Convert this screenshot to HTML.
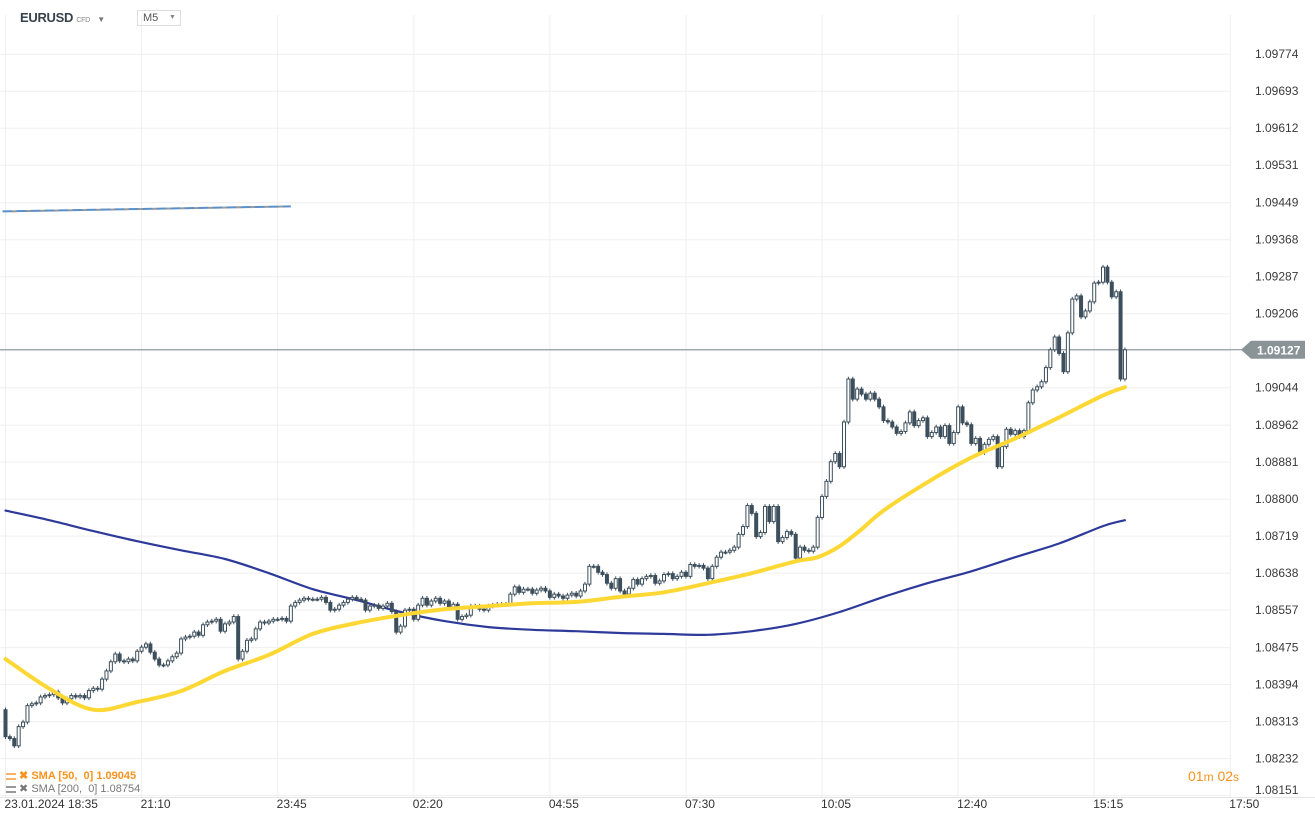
<!DOCTYPE html>
<html><head><meta charset="utf-8">
<style>
html,body{margin:0;padding:0;background:#fff;}
body{width:1315px;height:821px;overflow:hidden;position:relative;font-family:"Liberation Sans",sans-serif;}
svg{position:absolute;left:0;top:0;}
</style></head>
<body>
<svg id="chart" width="1315" height="821" xmlns="http://www.w3.org/2000/svg"></svg>
<script>
const yTicks=[1.09774,1.09693,1.09612,1.09531,1.09449,1.09368,1.09287,1.09206,1.09125,1.09044,1.08962,1.08881,1.08800,1.08719,1.08638,1.08557,1.08475,1.08394,1.08313,1.08232,1.08151];
const timeLabels=["23.01.2024  18:35","21:10","23:45","02:20","04:55","07:30","10:05","12:40","15:15","17:50"];
const firstOpen=1.08339;
const closes=[1.08280,1.08276,1.08260,1.08302,1.08312,1.08348,1.08352,1.08354,1.08367,1.08370,
1.08372,1.08378,1.08365,1.08354,1.08363,1.08370,1.08367,1.08370,1.08365,1.08381,
1.08386,1.08384,1.08406,1.08424,1.08444,1.08461,1.08446,1.08444,1.08450,1.08446,
1.08467,1.08476,1.08483,1.08465,1.08450,1.08437,1.08437,1.08446,1.08455,1.08463,
1.08494,1.08498,1.08500,1.08509,1.08502,1.08525,1.08531,1.08533,1.08537,1.08511,
1.08527,1.08531,1.08543,1.08450,1.08467,1.08491,1.08494,1.08516,1.08531,1.08529,
1.08533,1.08537,1.08537,1.08539,1.08533,1.08566,1.08574,1.08579,1.08583,1.08581,
1.08581,1.08581,1.08585,1.08574,1.08557,1.08559,1.08568,1.08574,1.08581,1.08585,
1.08581,1.08579,1.08557,1.08566,1.08568,1.08561,1.08566,1.08572,1.08554,1.08509,
1.08522,1.08557,1.08559,1.08537,1.08568,1.08583,1.08568,1.08577,1.08583,1.08572,
1.08577,1.08563,1.08570,1.08537,1.08543,1.08546,1.08566,1.08566,1.08559,1.08557,
1.08566,1.08568,1.08570,1.08570,1.08570,1.08592,1.08608,1.08596,1.08603,1.08603,
1.08594,1.08601,1.08605,1.08599,1.08585,1.08592,1.08588,1.08583,1.08590,1.08594,
1.08588,1.08599,1.08614,1.08653,1.08653,1.08640,1.08635,1.08616,1.08605,1.08626,
1.08599,1.08592,1.08605,1.08624,1.08614,1.08626,1.08631,1.08633,1.08616,1.08621,
1.08635,1.08637,1.08626,1.08631,1.08640,1.08631,1.08657,1.08653,1.08655,1.08649,
1.08626,1.08653,1.08673,1.08684,1.08684,1.08688,1.08695,1.08723,1.08740,1.08786,
1.08769,1.08718,1.08727,1.08784,1.08751,1.08784,1.08707,1.08716,1.08729,1.08723,
1.08671,1.08695,1.08688,1.08686,1.08695,1.08760,1.08806,1.08839,1.08882,1.08900,
1.08871,1.08969,1.09063,1.09019,1.09041,1.09030,1.09019,1.09032,1.09019,1.09002,
1.08972,1.08969,1.08958,1.08944,1.08948,1.08967,1.08991,1.08961,1.08972,1.08978,
1.08937,1.08946,1.08958,1.08937,1.08961,1.08922,1.08946,1.09002,1.08967,1.08963,
1.08922,1.08933,1.08902,1.08920,1.08931,1.08937,1.08871,1.08915,1.08953,1.08942,
1.08950,1.08937,1.08950,1.09011,1.09039,1.09046,1.09057,1.09088,1.09127,1.09155,
1.09119,1.09079,1.09164,1.09238,1.09245,1.09199,1.09212,1.09232,1.09273,1.09275,
1.09308,1.09275,1.09243,1.09254,1.09063,1.09127];
const sma50Idx=[0,10,20,30,40,50,60,70,80,90,100,110,120,130,140,150,160,170,180,185,190,195,200,210,220,230,240,250,255];
const sma50=[1.08450,1.08385,1.08339,1.08356,1.08380,1.08424,1.08459,1.08505,1.08529,1.08546,1.08559,1.08566,1.08572,1.08575,1.08586,1.08596,1.08616,1.08638,1.08664,1.08673,1.08697,1.08734,1.08775,1.08837,1.08891,1.08933,1.08979,1.09027,1.09045];
const sma200Idx=[0,10,20,30,40,50,60,70,80,90,100,110,120,130,140,150,160,170,180,190,200,210,220,230,240,250,255];
const sma200=[1.08775,1.08754,1.08730,1.08708,1.08688,1.08669,1.08638,1.08603,1.08579,1.08553,1.08533,1.08520,1.08514,1.08511,1.08507,1.08505,1.08503,1.08511,1.08527,1.08553,1.08586,1.08616,1.08642,1.08673,1.08703,1.08741,1.08754];
const oldLevelIdx=[0,65];
const oldLevel=[1.09430,1.09441];
const lastPrice=1.09127;

const NS="http://www.w3.org/2000/svg";
const svg=document.getElementById('chart');
const X0=5.5, STEP=4.39, PLOT_R=1231;
const xs=i=>X0+i*STEP;
const ys=p=>276.7+(1.09287-p)*45680;
function mk(tag,attrs,parent){const e=document.createElementNS(NS,tag);for(const k in attrs)e.setAttribute(k,attrs[k]);(parent||svg).appendChild(e);return e;}

const grid=mk('g',{});


yTicks.forEach(t=>{const y=ys(t);const l=mk('line',{x1:0,x2:PLOT_R,y1:y,y2:y,stroke:'#efefef','stroke-width':1},grid);

});
timeLabels.forEach((t,k)=>{const x=X0+k*31*STEP;const l=mk('line',{x1:x,x2:x,y1:15,y2:797,stroke:'#efefef','stroke-width':1},grid);

});
const ax=mk('line',{x1:0,x2:1315,y1:797.5,y2:797.5,stroke:'#e6e6e6'});



yTicks.forEach(t=>{if(Math.abs(t-1.09125)<1e-6)return;const y=Math.min(ys(t)+4,794);const tx=mk('text',{x:1255,y:y,'font-size':12,fill:'#3a3a3a'});tx.textContent=t.toFixed(5);

});
timeLabels.forEach((t,k)=>{const x=X0+k*31*STEP;const tx=mk('text',{x:x-1,y:808,'font-size':12,fill:'#333','xml:space':'preserve'});tx.textContent=t;

});

const ol=mk('line',{x1:xs(oldLevelIdx[0])-3,x2:xs(oldLevelIdx[1]),y1:ys(oldLevel[0]),y2:ys(oldLevel[1]),stroke:'#5b8fc7','stroke-width':2,'stroke-dasharray':'10 4'});


const ol2=mk('line',{x1:xs(oldLevelIdx[0])+7,x2:xs(oldLevelIdx[1]),y1:ys(oldLevel[0]),y2:ys(oldLevel[1]),stroke:'#999','stroke-width':2,'stroke-dasharray':'4 10'});



function line(idx,vals,color,w,name){
const P=idx.map((i,k)=>[xs(i),ys(vals[k])]);
let d='M'+P[0][0].toFixed(1)+','+P[0][1].toFixed(1);
for(let k=0;k<P.length-1;k++){const p0=P[Math.max(k-1,0)],p1=P[k],p2=P[k+1],p3=P[Math.min(k+2,P.length-1)];
const c1=[p1[0]+(p2[0]-p0[0])/6,p1[1]+(p2[1]-p0[1])/6],c2=[p2[0]-(p3[0]-p1[0])/6,p2[1]-(p3[1]-p1[1])/6];
d+=` C${c1[0].toFixed(1)},${c1[1].toFixed(1)} ${c2[0].toFixed(1)},${c2[1].toFixed(1)} ${p2[0].toFixed(1)},${p2[1].toFixed(1)}`;}
const p=mk('path',{d:d,fill:'none',stroke:color,'stroke-width':w,'stroke-linejoin':'round','stroke-linecap':'round'});

}
line(sma200Idx,sma200,'#2e3a9a',2.2,'sma-200-line');

const cy=ys(lastPrice);
const cl=mk('line',{x1:0,x2:1242,y1:cy,y2:cy,stroke:'#7d8a90','stroke-width':1});



const cg=mk('g',{});


closes.forEach((c,i)=>{const o=i?closes[i-1]:firstOpen;const x=xs(i);
const hi=Math.max(o,c)+0.00005, lo=Math.min(o,c)-0.00005;
const w=mk('line',{x1:x,x2:x,y1:ys(hi),y2:ys(lo),stroke:'#3d4f5c','stroke-width':1},cg);


const top=ys(Math.max(o,c)),bot=ys(Math.min(o,c));
const b=mk('rect',{x:x-1.5,y:top,width:3,height:Math.max(bot-top,1),fill:c>=o?'#fff':'#3d4f5c',stroke:'#3d4f5c','stroke-width':1},cg);

});

line(sma50Idx,sma50,'#fdd835',4,'sma-50-line');

const pl=mk('g',{});


mk('path',{d:`M1241,${cy} L1251,${cy-9} L1305,${cy-9} L1305,${cy+9} L1251,${cy+9} Z`,fill:'#8a9497'},pl);
const pt=mk('text',{x:1257,y:cy+4.5,'font-size':12,'font-weight':'bold',fill:'#fff'},pl);pt.textContent=lastPrice.toFixed(5);
</script>

<div style="position:absolute;left:20px;top:10px;font-size:13px;font-weight:bold;color:#36434d;letter-spacing:-0.3px;white-space:nowrap;">EURUSD <span style="font-size:7px;font-weight:normal;color:#888;">CFD</span> <span style="font-size:8px;color:#777;margin-left:4px;">▼</span></div>
<div style="position:absolute;left:137px;top:10px;width:44px;height:16px;border:1px solid #ddd;font-size:11px;color:#555;box-sizing:border-box;padding:1px 0 0 5px;white-space:nowrap;">M5<span style="font-size:7px;color:#888;position:absolute;left:31px;top:3px;">▼</span></div>

<div style="position:absolute;left:6px;top:769px;font-size:11px;font-weight:bold;color:#f7931e;white-space:pre;"><span style="display:inline-block;width:10px;height:7px;border-top:2px solid #f7b268;border-bottom:2px solid #f7b268;box-sizing:border-box;vertical-align:middle;"></span> ✖ SMA [50,  0] 1.09045</div>
<div style="position:absolute;left:6px;top:782px;font-size:11px;color:#777;white-space:pre;"><span style="display:inline-block;width:10px;height:7px;border-top:2px solid #999;border-bottom:2px solid #999;box-sizing:border-box;vertical-align:middle;"></span> ✖ SMA [200,  0] 1.08754</div>

<div style="position:absolute;left:1188px;top:768px;color:#f7931e;font-size:14px;white-space:nowrap;">01<span style="font-size:12px;">m</span> 02<span style="font-size:12px;">s</span></div>
</body></html>
